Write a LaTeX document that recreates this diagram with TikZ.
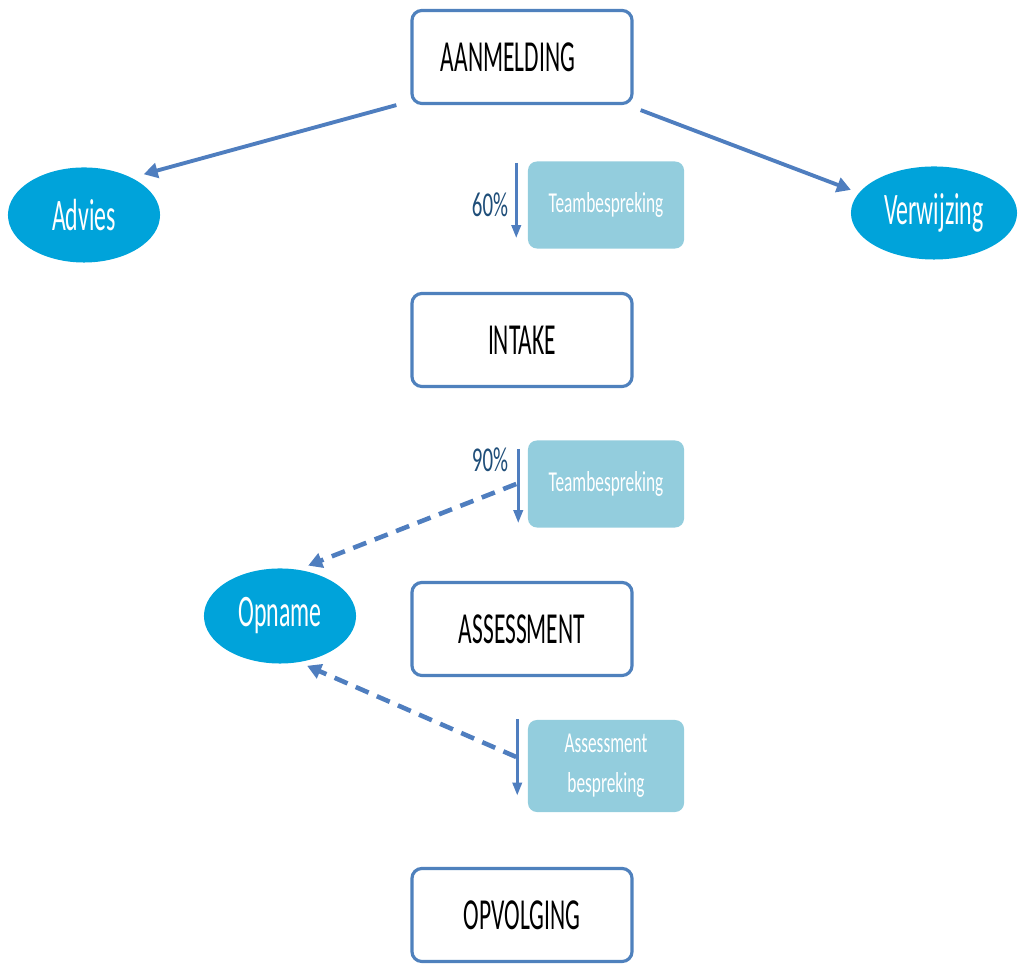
\documentclass[tikz,border=0pt]{standalone}
\usepackage{fontspec}
\usetikzlibrary{arrows.meta,shapes.geometric}
\newfontfamily\bigf[FakeStretch=0.53]{Carlito}
\newfontfamily\smallf[FakeStretch=0.6]{Carlito}
\definecolor{boxborder}{HTML}{4F81BD}
\definecolor{lightfill}{HTML}{93CDDD}
\definecolor{ellfill}{HTML}{00A3DA}
\definecolor{arrcol}{HTML}{4F7EBF}
\definecolor{pctcol}{HTML}{1F4E79}
\tikzset{
  mainbox/.style={draw=boxborder, line width=0.9pt, rounded corners=0.1cm, fill=white,
    minimum width=2.2cm, minimum height=0.93cm, inner sep=0pt,
    font=\bigf\fontsize{12.6}{14}\selectfont, text=black},
  lightbox/.style={fill=lightfill, rounded corners=0.09cm, minimum width=1.56cm,
    minimum height=0.87cm, inner sep=0pt, align=center,
    font=\smallf\fontsize{8.2}{11.5}\selectfont, text=white},
  ellbox/.style={ellipse, fill=ellfill, inner sep=0pt,
    font=\bigf\fontsize{12.8}{14}\selectfont, text=white},
  pct/.style={font=\smallf\fontsize{9.9}{12}\selectfont, text=pctcol, inner sep=0pt},
  mainarrow/.style={draw=arrcol, line width=1.1pt, -{Triangle[length=0.14cm,width=0.15cm]}},
  smallarrow/.style={draw=arrcol, line width=0.9pt, -{Triangle[length=0.13cm,width=0.09cm]}},
  dasharrow/.style={draw=arrcol, line width=1.3pt, dash pattern=on 0.14cm off 0.09cm,
    -{Triangle[length=0.14cm,width=0.15cm]}},
}
\begin{document}
\begin{tikzpicture}[x=0.01cm,y=-0.01cm]
\useasboundingbox (0,0) rectangle (1021,965);
% main boxes
\node[mainbox] (aan) at (522,57) {\kern-0.28cm AANMELDING};
\node[mainbox] (int) at (522,340) {INTAKE};
\node[mainbox] (ass) at (522,629) {ASSESSMENT};
\node[mainbox] (opv) at (522,915) {OPVOLGING};
% light boxes
\node[lightbox] (tb1) at (606,205) {Teambespreking};
\node[lightbox] (tb2) at (606,484) {Teambespreking};
\node[lightbox, minimum height=0.92cm] (tb3) at (606,766) {Assessment\\bespreking};
% ellipses
\node[ellbox, minimum width=1.52cm, minimum height=0.95cm] (adv) at (84,215) {Advies};
\node[ellbox, minimum width=1.66cm, minimum height=0.93cm] (ver) at (934,213) {Verwijzing};
\node[ellbox, minimum width=1.52cm, minimum height=0.95cm] (opn) at (280,616) {Opname};
% percentages
\node[pct] (p60) at (490,205) {60\%};
\node[pct] (p90) at (490,460) {90\%};
% small arrow coordinates
\coordinate (s1a) at ([xshift=-0.11cm,yshift=-0.02cm]tb1.north west);
\coordinate (s1b) at ([xshift=-0.11cm,yshift=0.11cm]tb1.south west);
\coordinate (s2a) at ([xshift=-0.09cm,yshift=-0.09cm]tb2.north west);
\coordinate (s2b) at ([xshift=-0.09cm,yshift=0.05cm]tb2.south west);
\coordinate (s3a) at ([xshift=-0.10cm,yshift=0cm]tb3.north west);
\coordinate (s3b) at ([xshift=-0.10cm,yshift=0.17cm]tb3.south west);
\coordinate (d1) at ([xshift=-0.11cm]tb2.west);
\coordinate (d2) at ([xshift=-0.11cm,yshift=0.09cm]tb3.west);
% main arrows
\draw[mainarrow, shorten >=0.12cm] ([xshift=-0.14cm]aan.south west) -- (adv.38);
\draw[mainarrow, shorten >=0.08cm] ([xshift=0.07cm,yshift=-0.05cm]aan.south east) -- (ver.165);
% small down arrows
\draw[smallarrow] (s1a) -- (s1b);
\draw[smallarrow] (s2a) -- (s2b);
\draw[smallarrow] (s3a) -- (s3b);
% dashed arrows
\draw[dasharrow, shorten >=0.1cm] (d1) -- (opn.68);
\draw[dasharrow, shorten >=0.08cm] (d2) -- (opn.-67);
\end{tikzpicture}
\end{document}
